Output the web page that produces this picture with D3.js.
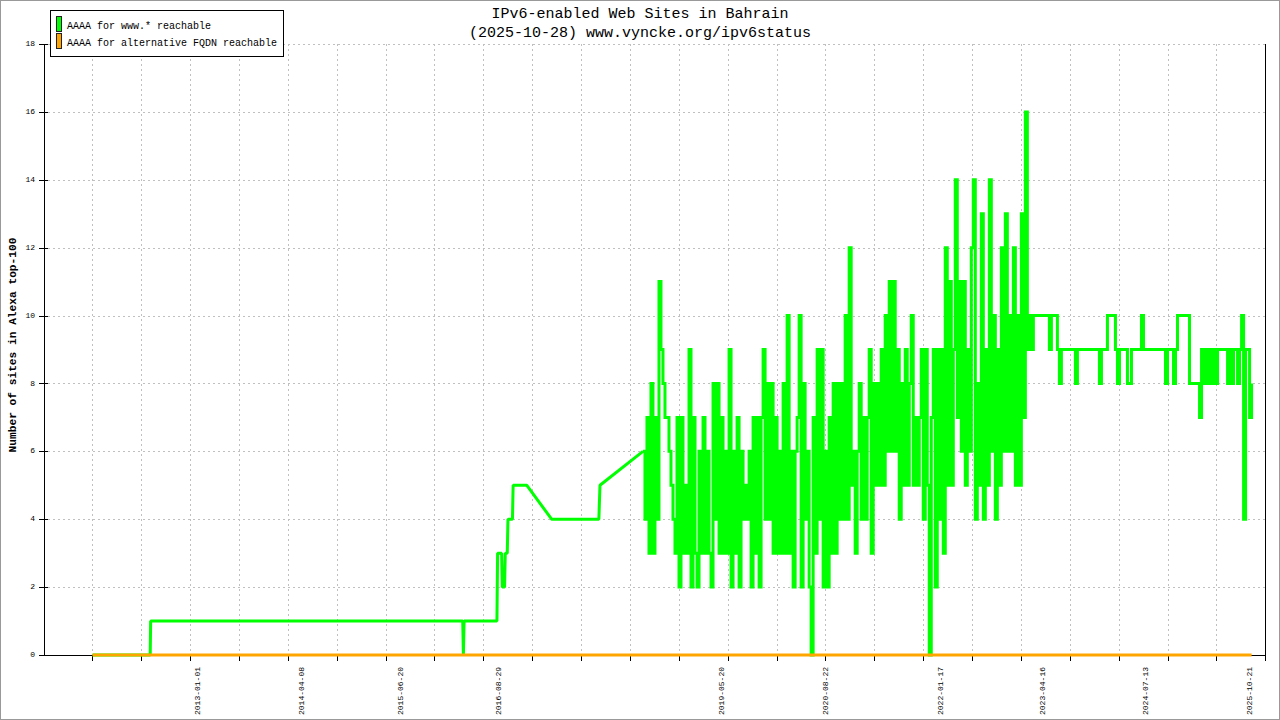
<!DOCTYPE html>
<html>
<head>
<meta charset="utf-8">
<script src="https://cdn.jsdelivr.net/npm/d3@7"></script>
<style>
  body { margin: 0; background: #fff; }
  svg { display: block; }
  text { font-family: "Liberation Mono", "DejaVu Sans Mono", monospace; fill: #000; }
</style>
</head>
<body>
<svg id="chart" width="1280" height="720"></svg>
<script>
// sparse measurements before daily polling started
const earlyDates = ['2011-09-21', '2012-06-03', '2012-06-05', '2016-03-23', '2016-03-26', '2016-03-29',
  '2016-08-22', '2016-08-25', '2016-09-12', '2016-09-15', '2016-09-25', '2016-09-28',
  '2016-10-07', '2016-10-10', '2016-10-30', '2016-11-02', '2017-01-02', '2017-04-22',
  '2017-11-18', '2017-11-23']
const earlyValues = [0, 0, 1, 1, 0, 1, 1, 3, 3, 2, 2, 3, 3, 4, 4, 5, 5, 4, 4, 5]

// regular samples from denseStart to denseEnd
const denseStart = '2018-06-02'
const denseEnd = '2025-10-28'
const denseValues = [
  6, 4, 7, 3, 8, 3, 7, 4, 11, 9, 8, 7, 7, 6, 5, 4, 3, 7, 2, 7,
  3, 5, 3, 9, 2, 7, 3, 2, 6, 3, 7, 3, 6, 3, 2, 8, 4, 8, 3, 7,
  3, 6, 3, 9, 2, 6, 3, 7, 2, 6, 4, 5, 4, 6, 2, 7, 3, 7, 2, 7,
  9, 4, 8, 4, 8, 3, 7, 3, 6, 3, 8, 3, 10, 3, 6, 2, 6, 7, 10, 2,
  8, 4, 6, 2, 0, 7, 3, 9, 4, 9, 2, 6, 2, 7, 3, 8, 3, 8, 4, 8,
  4, 10, 4, 12, 5, 6, 3, 6, 8, 4, 7, 4, 7, 9, 3, 8, 5, 8, 5, 9,
  5, 10, 6, 11, 6, 11, 6, 9, 4, 8, 5, 9, 5, 8, 10, 5, 7, 5, 7, 9,
  4, 9, 5, 0, 7, 9, 2, 9, 4, 9, 3, 12, 5, 11, 5, 9, 14, 7, 11, 6,
  11, 5, 9, 6, 12, 14, 4, 8, 5, 13, 4, 9, 5, 14, 6, 10, 4, 9, 5, 12,
  6, 13, 6, 10, 6, 12, 5, 10, 5, 13, 7, 16, 9, 10, 9, 10, 10, 10, 10, 10,
  10, 10, 10, 9, 10, 10, 10, 9, 8, 9, 9, 9, 9, 9, 9, 9, 8, 9, 9, 9,
  9, 9, 9, 9, 9, 9, 9, 9, 8, 9, 9, 9, 10, 10, 10, 10, 9, 8, 9, 9,
  9, 9, 8, 8, 9, 9, 9, 9, 9, 10, 9, 9, 9, 9, 9, 9, 9, 9, 9, 9,
  9, 8, 9, 9, 9, 8, 9, 10, 10, 10, 10, 10, 10, 8, 8, 8, 8, 8, 7, 9,
  8, 9, 8, 9, 8, 9, 8, 9, 9, 9, 9, 9, 8, 9, 8, 9, 9, 8, 9, 10,
  4, 9, 9, 7, 8
]

// alternative FQDN series
const altDates = ['2011-09-21', '2025-10-28']
const altValues = [0, 0]

const yTicks = [0, 2, 4, 6, 8, 10, 12, 14, 16, 18]
const xLabels = ['2013-01-01', '2014-04-08', '2015-06-20', '2016-08-29', '2019-05-20',
  '2020-08-22', '2022-01-17', '2023-04-16', '2024-07-13', '2025-10-21']
const gridStart = '2011-09-20'
const gridStepDays = 217.2
const gridCount = 25

const parse = d3.utcParse('%Y-%m-%d')
const plot = { left: 44, right: 1266, top: 44, bottom: 655 }

const x = d3.scaleUtc()
  .domain([parse('2011-02-17'), parse('2025-12-31')])
  .range([plot.left, plot.right])
const y = d3.scaleLinear().domain([0, 18]).range([plot.bottom, plot.top])

const t0 = parse(denseStart), t1 = parse(denseEnd)
const earlySeries = earlyDates.map((d, i) => ({ date: parse(d), value: earlyValues[i] }))
const denseSeries = denseValues.map((v, i) => ({
  date: new Date(+t0 + i * (t1 - t0) / (denseValues.length - 1)),
  value: v
}))
const altSeries = altDates.map((d, i) => ({ date: parse(d), value: altValues[i] }))

const g0 = parse(gridStart)
const gridDates = d3.range(gridCount).map(k => new Date(+g0 + k * gridStepDays * 864e5))

const svg = d3.select('#chart')

svg.append('rect')
  .attr('width', 1280).attr('height', 720)
  .attr('fill', '#fff').attr('stroke', '#999').attr('stroke-width', 2)

// grid
const grid = svg.append('g')
  .attr('stroke', '#c0c0c0').attr('stroke-dasharray', '2,3')
  .attr('shape-rendering', 'crispEdges')
grid.selectAll('.hgrid')
  .data(yTicks.filter(d => d > 0))
  .join('line')
  .attr('x1', plot.left + 4).attr('x2', plot.right)
  .attr('y1', d => Math.round(y(d)) + 0.5).attr('y2', d => Math.round(y(d)) + 0.5)
grid.selectAll('.vgrid')
  .data(gridDates.slice(0, gridCount - 1))
  .join('line')
  .attr('x1', d => Math.round(x(d)) + 0.5).attr('x2', d => Math.round(x(d)) + 0.5)
  .attr('y1', plot.top).attr('y2', plot.bottom)

// axes
const axes = svg.append('g').attr('stroke', '#000').attr('shape-rendering', 'crispEdges')
axes.append('path')
  .attr('fill', 'none')
  .attr('d', `M${plot.left + 0.5},${plot.top}V${plot.bottom + 0.5}H${plot.right - 0.5}V${plot.top}`)
axes.selectAll('.ytick')
  .data(yTicks)
  .join('line')
  .attr('x1', plot.left - 5).attr('x2', plot.left + 4)
  .attr('y1', d => Math.round(y(d)) + 0.5).attr('y2', d => Math.round(y(d)) + 0.5)
axes.selectAll('.xtick')
  .data(gridDates)
  .join('line')
  .attr('x1', d => Math.round(x(d)) + 0.5).attr('x2', d => Math.round(x(d)) + 0.5)
  .attr('y1', plot.bottom).attr('y2', plot.bottom + 6)

svg.append('g').selectAll('text')
  .data(yTicks)
  .join('text')
  .attr('x', plot.left - 9)
  .attr('y', d => y(d))
  .attr('text-anchor', 'end')
  .attr('dominant-baseline', 'middle')
  .attr('font-size', '8px')
  .text(d => d)

svg.append('g').selectAll('text')
  .data(xLabels)
  .join('text')
  .attr('transform', d => `translate(${x(parse(d))},${plot.bottom + 12}) rotate(-90)`)
  .attr('text-anchor', 'end')
  .attr('dominant-baseline', 'middle')
  .attr('font-size', '8px')
  .text(d => d)

// series: sparse part joined by straight segments, daily part drawn as steps
const line = d3.line().x(d => x(d.date)).y(d => y(d.value))
const stepLine = d3.line().x(d => x(d.date)).y(d => y(d.value)).curve(d3.curveStepAfter)
svg.append('path')
  .datum(earlySeries.concat(denseSeries.slice(0, 1)))
  .attr('fill', 'none')
  .attr('stroke', '#00ff00')
  .attr('stroke-width', 3)
  .attr('stroke-linejoin', 'bevel')
  .attr('d', line)
svg.append('path')
  .datum(denseSeries)
  .attr('fill', 'none')
  .attr('stroke', '#00ff00')
  .attr('stroke-width', 3)
  .attr('stroke-linejoin', 'miter')
  .attr('d', stepLine)
svg.append('path')
  .datum(altSeries)
  .attr('fill', 'none')
  .attr('stroke', '#ffa500')
  .attr('stroke-width', 3)
  .attr('d', line)

// titles
svg.append('text')
  .attr('x', 640).attr('y', 18)
  .attr('text-anchor', 'middle')
  .attr('font-size', '15px')
  .text('IPv6-enabled Web Sites in Bahrain')
svg.append('text')
  .attr('x', 640).attr('y', 37)
  .attr('text-anchor', 'middle')
  .attr('font-size', '15px')
  .text('(2025-10-28) www.vyncke.org/ipv6status')

svg.append('text')
  .attr('transform', 'translate(16,345) rotate(-90)')
  .attr('text-anchor', 'middle')
  .attr('font-size', '11.2px')
  .attr('font-weight', 'bold')
  .text('Number of sites in Alexa top-100')

// legend
const legend = svg.append('g')
legend.append('rect')
  .attr('x', 50.5).attr('y', 10.5).attr('width', 233).attr('height', 46)
  .attr('fill', '#fff').attr('stroke', '#000')
  .attr('shape-rendering', 'crispEdges')
const legendItems = [
  { label: 'AAAA for www.* reachable', color: '#00ff00' },
  { label: 'AAAA for alternative FQDN reachable', color: '#ffa500' }
]
legendItems.forEach((item, i) => {
  legend.append('rect')
    .attr('x', 56.5).attr('y', 16.5 + i * 17).attr('width', 5).attr('height', 15)
    .attr('fill', item.color).attr('stroke', '#222').attr('stroke-width', 1)
    .attr('shape-rendering', 'crispEdges')
  legend.append('text')
    .attr('x', 67).attr('y', 29 + i * 17)
    .attr('font-size', '10px')
    .text(item.label)
})
</script>
</body>
</html>
